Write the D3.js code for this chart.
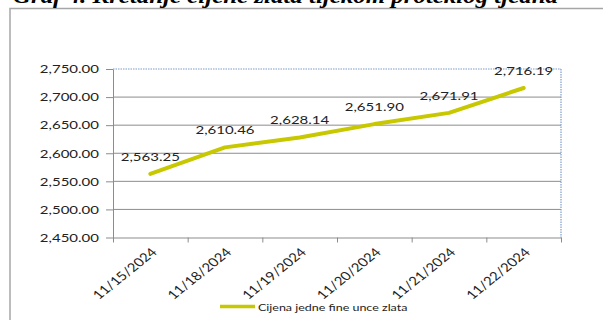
<!DOCTYPE html>
<html><head><meta charset="utf-8">
<script src="https://cdn.jsdelivr.net/npm/d3@7"></script>
<style>body{margin:0;background:#fff}svg{display:block}</style>
</head><body><svg id="c" width="603" height="320"></svg>
<script>
const categories = ["11/15/2024","11/18/2024","11/19/2024","11/20/2024","11/21/2024","11/22/2024"];
const values = [2563.25, 2610.46, 2628.14, 2651.90, 2671.91, 2716.19];
const yTicks = [2450, 2500, 2550, 2600, 2650, 2700, 2750];
const seriesName = "Cijena jedne fine unce zlata";
const title = "Graf 4. Kretanje cijene zlata tijekom proteklog tjedna";

const SX = 1.25;               // horizontal stretch of the picture
const FONT = "Lato, 'Open Sans', sans-serif";
const LINE = "#c8c800";
const svg = d3.select("#c");
const M = {l: 113, r: 561, t: 69, b: 237.5};
const x = d3.scaleBand().domain(categories).range([M.l, M.r]).padding(0);
const xEdge = d3.scaleLinear().domain([0, categories.length]).range([M.l, M.r]);
const y = d3.scaleLinear().domain([yTicks[0], yTicks[yTicks.length - 1]]).range([M.b, M.t]);
const fmt = d3.format(",.2f");
const cx = d => x(d) + x.bandwidth() / 2;

const marks = svg.append("g");
const txt = svg.append("g").attr("transform", `scale(${SX},1)`);
const tx = v => v / SX;

// title (cut at top)
svg.append("text").attr("x", 13).attr("y", 3)
  .attr("font-family", "'Liberation Serif', serif").attr("font-weight", "bold").attr("font-style", "italic")
  .attr("font-size", 21).attr("textLength", 545).attr("lengthAdjust", "spacingAndGlyphs")
  .text(title);

// outer frame
marks.append("rect").attr("x", 10).attr("y", 8.5).attr("width", 700).attr("height", 400)
  .attr("fill", "none").attr("stroke", "#a6a6a6").attr("stroke-width", 1.5);

// gridlines
marks.selectAll("line.grid").data(yTicks.slice(1, -1)).join("line").attr("class", "grid")
  .attr("x1", M.l).attr("x2", M.r).attr("y1", d => y(d)).attr("y2", d => y(d))
  .attr("stroke", "#8c8c8c").attr("stroke-width", 1);
// plot border top / right (dotted blue)
marks.append("line").attr("x1", M.l).attr("x2", M.r).attr("y1", y(yTicks[yTicks.length-1])).attr("y2", y(yTicks[yTicks.length-1]))
  .attr("stroke", "#7f9cc8").attr("stroke-width", 1.2).attr("stroke-dasharray", "1.5,1");
marks.append("line").attr("x1", M.r).attr("x2", M.r).attr("y1", M.t).attr("y2", M.b)
  .attr("stroke", "#7f9cc8").attr("stroke-width", 1.2).attr("stroke-dasharray", "1.5,1");

// y axis (ticks only; labels in stretched layer)
const ya = marks.append("g").attr("transform", `translate(${M.l},0)`)
  .call(d3.axisLeft(y).tickValues(yTicks).tickSize(7).tickSizeOuter(0).tickFormat(""));
ya.selectAll("path,line").attr("stroke", "#8c8c8c");
const xa = marks.append("g").attr("transform", `translate(0,${M.b})`)
  .call(d3.axisBottom(xEdge).tickValues(d3.range(categories.length + 1)).tickSize(5).tickSizeOuter(0).tickFormat(""));
xa.selectAll("path,line").attr("stroke", "#8c8c8c");

// series line
marks.append("path").datum(values)
  .attr("d", d3.line().x((d, i) => cx(categories[i])).y(d => y(d)))
  .attr("fill", "none").attr("stroke", LINE).attr("stroke-width", 4)
  .attr("stroke-linejoin", "round").attr("stroke-linecap", "round");

// y labels
txt.selectAll("text.yl").data(yTicks).join("text").attr("class", "yl")
  .attr("x", tx(99)).attr("y", d => y(d) + 4.3).attr("text-anchor", "end")
  .attr("font-family", FONT).attr("font-size", 12).attr("fill", "#222").text(d => fmt(d));

// data labels
txt.selectAll("text.dl").data(values).join("text").attr("class", "dl")
  .attr("x", (d, i) => tx(cx(categories[i]))).attr("y", d => y(d) - 13).attr("text-anchor", "middle")
  .attr("font-family", FONT).attr("font-size", 12).attr("fill", "#222").text(d => fmt(d));

// x labels
txt.selectAll("text.xl").data(categories).join("text").attr("class", "xl")
  .attr("transform", d => `translate(${tx(cx(d) + 7.5)},253) rotate(-45)`).attr("text-anchor", "end")
  .attr("font-family", FONT).attr("font-size", 12).attr("fill", "#222").text(d => d);

// legend
marks.append("line").attr("x1", 220).attr("x2", 255).attr("y1", 306.5).attr("y2", 306.5)
  .attr("stroke", LINE).attr("stroke-width", 3.5);
txt.append("text").attr("x", tx(258)).attr("y", 310.7)
  .attr("font-family", FONT).attr("font-size", 10).attr("fill", "#222").text(seriesName);
</script></body></html>
